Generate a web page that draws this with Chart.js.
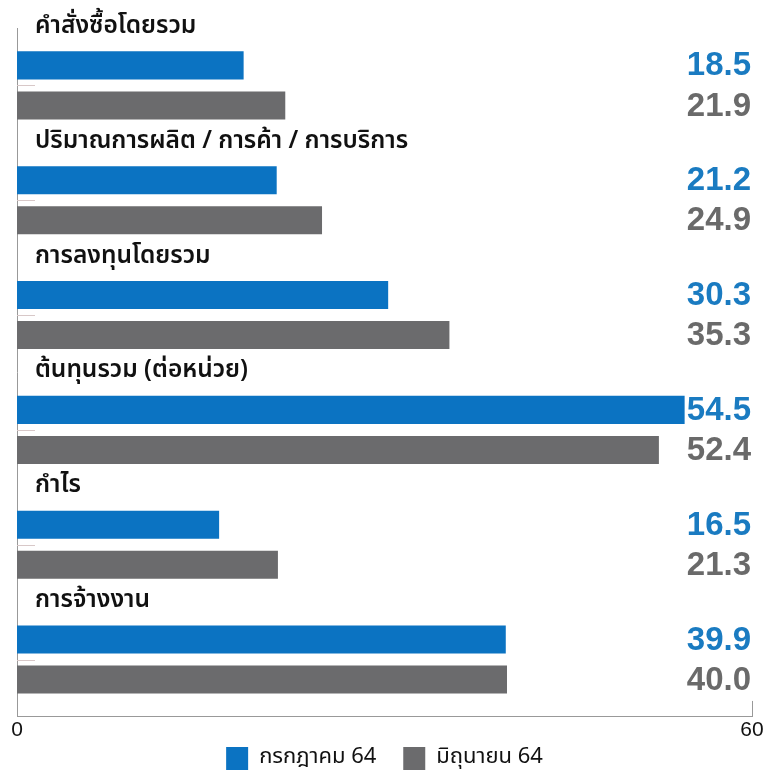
<!DOCTYPE html>
<html>
<head>
<meta charset="utf-8">
<script src="https://cdn.jsdelivr.net/npm/chart.js@4"></script>
<style>
  html, body { margin: 0; padding: 0; background: #fff; }
  #wrap { width: 778px; height: 772px; }
</style>
</head>
<body>
<div id="wrap"><canvas id="myChart" width="778" height="772"></canvas></div>
<script>
// หมวดหมู่และค่าของแต่ละเดือน
const categories = [
  'คำสั่งซื้อโดยรวม',
  'ปริมาณการผลิต / การค้า / การบริการ',
  'การลงทุนโดยรวม',
  'ต้นทุนรวม (ต่อหน่วย)',
  'กำไร',
  'การจ้างงาน'
];
const julyValues = [18.5, 21.2, 30.3, 54.5, 16.5, 39.9];
const juneValues = [21.9, 24.9, 35.3, 52.4, 21.3, 40.0];
const seriesNames = ['กรกฎาคม 64', 'มิถุนายน 64'];
const axisMin = 0;
const axisMax = 60;

const thaiFont = '"Noto Sans Thai", "Noto Sans", "DejaVu Sans", sans-serif';
const numFont = '"Liberation Sans", Arial, sans-serif';
const blue = '#0b73c2';
const gray = '#6b6b6d';
const valueColors = ['#1a7bc1', '#6a6a6a'];

// วาดชื่อหมวด, ค่าตัวเลข และขีดเล็ก ๆ บนแกน
const labelsPlugin = {
  id: 'labelsPlugin',
  afterDatasetsDraw(chart) {
    const ctx = chart.ctx;
    const y = chart.scales.y;
    const x = chart.scales.x;
    const area = chart.chartArea;
    const band = (y.bottom - y.top) / categories.length;

    ctx.save();
    // ชื่อหมวด
    ctx.font = '600 24.5px ' + thaiFont;
    ctx.fillStyle = '#111';
    ctx.textAlign = 'left';
    ctx.textBaseline = 'middle';
    categories.forEach((c, i) => {
      const top = y.getPixelForTick(i) - band / 2;
      ctx.fillText(c, area.left + 18, top);
    });

    // ขีดที่กึ่งกลางหมวด
    ctx.strokeStyle = '#d8c8c8';
    ctx.lineWidth = 1;
    categories.forEach((c, i) => {
      const py = Math.round(y.getPixelForTick(i)) + 0.5;
      ctx.beginPath();
      ctx.moveTo(area.left, py);
      ctx.lineTo(area.left + 18, py);
      ctx.stroke();
    });

    // ขีดที่ปลายแกน 60
    const px = Math.round(x.getPixelForValue(axisMax)) + 0.5;
    ctx.strokeStyle = '#999';
    ctx.beginPath();
    ctx.moveTo(px, area.bottom);
    ctx.lineTo(px, area.bottom - 16);
    ctx.stroke();

    // ค่าตัวเลข
    ctx.font = 'bold 33px ' + numFont;
    ctx.textAlign = 'right';
    chart.data.datasets.forEach((ds, di) => {
      const meta = chart.getDatasetMeta(di);
      ctx.fillStyle = valueColors[di];
      meta.data.forEach((bar, i) => {
        ctx.fillText(ds.data[i].toFixed(1), area.right - 1, bar.y + 1);
      });
    });
    ctx.restore();
  }
};

const ctx = document.querySelector('#myChart').getContext('2d');
const myChart = new Chart(ctx, {
  type: 'bar',
  data: {
    labels: categories,
    datasets: [
      {
        label: seriesNames[0],
        data: julyValues,
        backgroundColor: blue,
        categoryPercentage: 0.6975,
        barPercentage: 0.7
      },
      {
        label: seriesNames[1],
        data: juneValues,
        backgroundColor: gray,
        categoryPercentage: 0.6975,
        barPercentage: 0.7
      }
    ]
  },
  options: {
    indexAxis: 'y',
    responsive: false,
    animation: false,
    layout: { padding: { left: 17, right: 26, top: 28, bottom: -8 } },
    scales: {
      x: {
        min: axisMin,
        max: axisMax,
        grid: { display: false, drawTicks: false },
        border: { display: true, color: '#999', width: 1 },
        ticks: {
          stepSize: 60,
          padding: 2,
          color: '#111',
          font: { family: numFont, size: 21, lineHeight: 1.05 }
        }
      },
      y: {
        grid: { display: false, drawTicks: false },
        border: { display: true, color: '#999', width: 1 },
        ticks: { display: false }
      }
    },
    plugins: {
      legend: {
        position: 'bottom',
        labels: {
          boxWidth: 22,
          boxHeight: 23,
          padding: 4,
          color: '#111',
          font: { family: thaiFont, size: 22 },
          generateLabels(chart) {
            const items = Chart.defaults.plugins.legend.labels.generateLabels(chart);
            // เว้นระยะระหว่างรายการ
            items[0].text = items[0].text + '    ';
            return items;
          }
        }
      },
      tooltip: { enabled: false }
    }
  },
  plugins: [labelsPlugin]
});
</script>
</body>
</html>
